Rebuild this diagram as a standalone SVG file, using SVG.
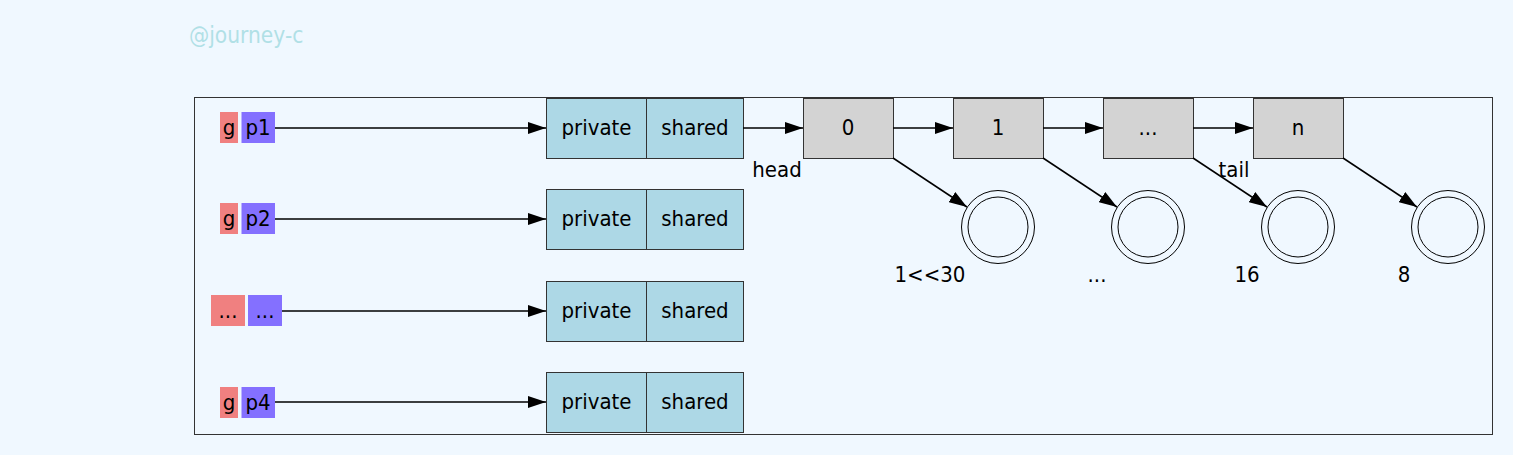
<svg xmlns="http://www.w3.org/2000/svg" width="1513" height="455" viewBox="0 0 1513 455">
<style>
text{font-family:"DejaVu Sans Condensed","DejaVu Sans",sans-serif;font-stretch:condensed;font-size:22px;fill:#000;text-anchor:middle}
.wm{fill:#b0e0e6;text-anchor:start;font-size:22.5px}
.g{fill:#f08080}
.p{fill:#8470ff}
.buf{fill:#add8e6;stroke:#333;stroke-width:1}
.node{fill:#d3d3d3;stroke:#333;stroke-width:1}
.c{fill:none;stroke:#000;stroke-width:1}
.e{stroke:#000;stroke-width:1.5;fill:none;marker-end:url(#ah)}
</style>
<defs>
<marker id="ah" viewBox="0 0 18 12" refX="18" refY="6" markerWidth="18" markerHeight="12" markerUnits="userSpaceOnUse" orient="auto"><path d="M0,0 L18,6 L0,12 z" fill="#000"/></marker>
</defs>
<rect x="0" y="0" width="1513" height="455" fill="#f0f8ff"/>
<text class="wm" x="189" y="43">@journey-c</text>
<rect x="194.5" y="97.5" width="1298" height="337" fill="none" stroke="#333" stroke-width="1"/>

<g id="p1">
<rect class="g" x="220" y="112" width="18" height="31"/><text x="229" y="135">g</text>
<rect class="p" x="241.5" y="112" width="33.5" height="31"/><text x="258" y="135">p1</text>
</g>
<g id="p2">
<rect class="g" x="220" y="203" width="18" height="31"/><text x="229" y="226">g</text>
<rect class="p" x="241.5" y="203" width="33.5" height="31"/><text x="258" y="226">p2</text>
</g>
<g id="p3">
<rect class="g" x="211" y="295" width="34" height="31"/><text x="228" y="318">...</text>
<rect class="p" x="248" y="295" width="34" height="31"/><text x="265" y="318">...</text>
</g>
<g id="p4">
<rect class="g" x="220" y="387" width="18" height="31"/><text x="229" y="410">g</text>
<rect class="p" x="241.5" y="387" width="33.5" height="31"/><text x="258" y="410">p4</text>
</g>

<g id="poolLocal1">
<rect class="buf" x="546.5" y="98.5" width="100" height="60"/><text x="596.5" y="135">private</text>
<rect class="buf" x="646.5" y="98.5" width="97" height="60"/><text x="695" y="135">shared</text>
</g>
<g id="poolLocal2">
<rect class="buf" x="546.5" y="189.5" width="100" height="60"/><text x="596.5" y="226">private</text>
<rect class="buf" x="646.5" y="189.5" width="97" height="60"/><text x="695" y="226">shared</text>
</g>
<g id="poolLocal3">
<rect class="buf" x="546.5" y="281.5" width="100" height="60"/><text x="596.5" y="318">private</text>
<rect class="buf" x="646.5" y="281.5" width="97" height="60"/><text x="695" y="318">shared</text>
</g>
<g id="poolLocal4">
<rect class="buf" x="546.5" y="372.5" width="100" height="60"/><text x="596.5" y="409">private</text>
<rect class="buf" x="646.5" y="372.5" width="97" height="60"/><text x="695" y="409">shared</text>
</g>

<g id="n0"><rect class="node" x="803.5" y="98.5" width="90" height="60"/><text x="848" y="135">0</text></g>
<g id="n1"><rect class="node" x="953.5" y="98.5" width="90" height="60"/><text x="998" y="135">1</text></g>
<g id="n2"><rect class="node" x="1103.5" y="98.5" width="90" height="60"/><text x="1148" y="135">...</text></g>
<g id="n3"><rect class="node" x="1253.5" y="98.5" width="90" height="60"/><text x="1298" y="135">n</text></g>

<g id="c0"><circle class="c" cx="998" cy="227" r="36.5"/><circle class="c" cx="998" cy="227" r="30"/></g>
<g id="c1"><circle class="c" cx="1148" cy="227" r="36.5"/><circle class="c" cx="1148" cy="227" r="30"/></g>
<g id="c2"><circle class="c" cx="1298" cy="227" r="36.5"/><circle class="c" cx="1298" cy="227" r="30"/></g>
<g id="c3"><circle class="c" cx="1448" cy="227" r="36.5"/><circle class="c" cx="1448" cy="227" r="30"/></g>

<g id="connectors">
<path class="e" d="M275,128 L546,128"/>
<path class="e" d="M275,219 L546,219"/>
<path class="e" d="M282,311 L546,311"/>
<path class="e" d="M275,402 L546,402"/>
<path class="e" d="M743,128 L803,128"/>
<path class="e" d="M893,128 L953,128"/>
<path class="e" d="M1043,128 L1103,128"/>
<path class="e" d="M1193,128 L1253,128"/>
<path class="e" d="M893,158 L967,207"/>
<path class="e" d="M1043,158 L1117,207"/>
<path class="e" d="M1193,158 L1267,207"/>
<path class="e" d="M1343,158 L1417,207"/>
<text x="777" y="177">head</text>
<text x="1234" y="177">tail</text>
</g>

<text x="930" y="282">1&lt;&lt;30</text>
<text x="1097" y="282">...</text>
<text x="1247" y="282">16</text>
<text x="1404" y="282">8</text>
</svg>
